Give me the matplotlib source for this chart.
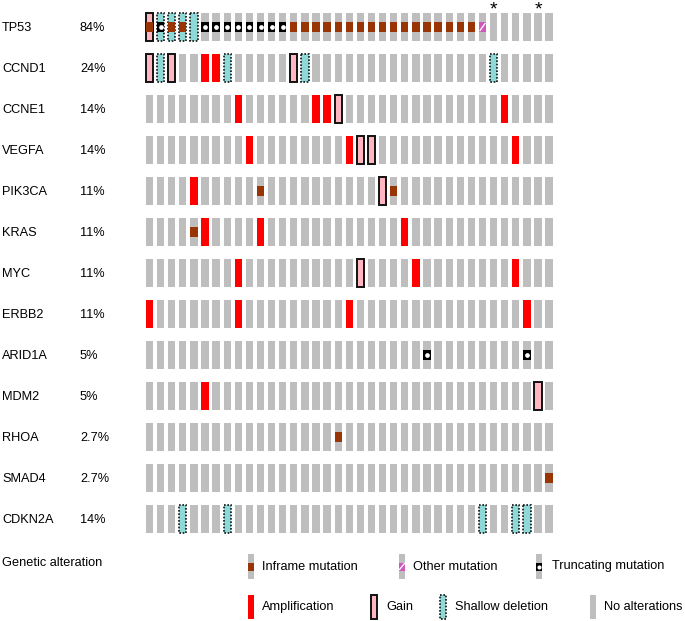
import matplotlib
matplotlib.use("Agg")
import matplotlib.pyplot as plt
from matplotlib.patches import Rectangle

plt.rcParams['font.family'] = ['Liberation Sans', 'DejaVu Sans']

genes = ["TP53", "CCND1", "CCNE1", "VEGFA", "PIK3CA", "KRAS", "MYC",
         "ERBB2", "ARID1A", "MDM2", "RHOA", "SMAD4", "CDKN2A"]
percents = ["84%", "24%", "14%", "14%", "11%", "11%", "11%",
            "11%", "5%", "5%", "2.7%", "2.7%", "14%"]
n_samples = 37

amplification = {"CCND1": [5, 6], "CCNE1": [8, 15, 16, 32], "VEGFA": [9, 18, 33],
                 "PIK3CA": [4], "KRAS": [5, 10, 23], "MYC": [8, 24, 33],
                 "ERBB2": [0, 8, 18, 34], "MDM2": [5]}
gain = {"TP53": [0], "CCND1": [0, 2, 13], "CCNE1": [17], "VEGFA": [19, 20],
        "PIK3CA": [21], "MYC": [19], "MDM2": [35]}
shallow_deletion = {"TP53": [1, 2, 3, 4], "CCND1": [1, 7, 14, 31],
                    "CDKN2A": [3, 7, 30, 33, 34]}
inframe = {"TP53": [0, 2, 3] + list(range(13, 30)), "PIK3CA": [10, 22],
           "KRAS": [4], "RHOA": [17], "SMAD4": [36]}
truncating = {"TP53": [1, 5, 6, 7, 8, 9, 10, 11, 12], "ARID1A": [25, 34]}
other_mutation = {"TP53": [30]}
asterisk_cols = [31, 35]

C_GRAY = "#bebebe"
C_AMP = "#ff0000"
C_GAIN = "#ffb6c1"
C_SHAL = "#8fd8d8"
C_INF = "#993404"
C_TRUNC = "#000000"
C_OTHER = "#cf58bc"

W, H = 685, 621
fig = plt.figure(figsize=(W / 100, H / 100), dpi=100)

pitch_x, x0 = 11.1, 149.5
pitch_y, y0 = 41.0, 27.0
left_px = x0 - pitch_x / 2
right_px = x0 + pitch_x * (n_samples - 0.5)
top_px = y0 - pitch_y / 2
bot_px = y0 + pitch_y * (len(genes) - 0.5)
ax = fig.add_axes([left_px / W, 1 - bot_px / H, (right_px - left_px) / W, (bot_px - top_px) / H])
ax.set_xlim(-0.5, n_samples - 0.5)
ax.set_ylim(len(genes) - 0.5, -0.5)
ax.axis("off")

bw = 0.66
bh = 0.683
mh = 0.22

for r, g in enumerate(genes):
    cols = list(range(n_samples))
    ax.bar(cols, bh, bottom=r - bh / 2, width=bw, color=C_GRAY, linewidth=0, zorder=1)
    if g in amplification:
        ax.bar(amplification[g], bh, bottom=r - bh / 2, width=bw, color=C_AMP, linewidth=0, zorder=2)
    if g in gain:
        ax.bar(gain[g], bh, bottom=r - bh / 2, width=bw, color=C_GAIN,
               edgecolor="#111111", linewidth=1.4, zorder=2)
    if g in shallow_deletion:
        ax.bar(shallow_deletion[g], bh, bottom=r - bh / 2, width=bw, color=C_SHAL,
               edgecolor="#111111", linewidth=1.2, linestyle=(0, (1, 1)), zorder=2)
    if g in inframe:
        ax.bar(inframe[g], mh, bottom=r - mh / 2, width=bw, color=C_INF, linewidth=0, zorder=3)
    if g in truncating:
        ax.bar(truncating[g], mh, bottom=r - mh / 2, width=bw, color=C_TRUNC, linewidth=0, zorder=3)
        ax.plot(truncating[g], [r] * len(truncating[g]), "o", color="white",
                markersize=3.4, markeredgewidth=0, zorder=4)
    if g in other_mutation:
        ax.bar(other_mutation[g], mh, bottom=r - mh / 2, width=bw, color=C_OTHER, linewidth=0, zorder=3)
        for c in other_mutation[g]:
            ax.plot([c - bw / 2 * 0.7, c + bw / 2 * 0.7], [r + mh / 2 * 0.8, r - mh / 2 * 0.8],
                    color="white", lw=0.9, zorder=4)

for c in asterisk_cols:
    ax.text(c, -0.42, "*", ha="center", va="center", fontsize=14, clip_on=False)

ytr = ax.get_yaxis_transform()
def ax_x(px):
    return (px - left_px) / (right_px - left_px)

fs = 9.2
for r, (g, p) in enumerate(zip(genes, percents)):
    ax.text(ax_x(2), r + 0.02, g, transform=ytr, ha="left", va="center", fontsize=fs)
    ax.text(ax_x(80), r + 0.02, p, transform=ytr, ha="left", va="center", fontsize=fs)

# legend in pixel coordinates
lg = fig.add_axes([0, 0, 1, 1], facecolor="none")
lg.set_xlim(0, W)
lg.set_ylim(H, 0)
lg.axis("off")

lg.text(2, 563, "Genetic alteration", ha="left", va="center", fontsize=fs)

gw = 6.5
def glyph_bg(cx, yt, yb, color=C_GRAY, **kw):
    lg.add_patch(Rectangle((cx - gw / 2, yt), gw, yb - yt, facecolor=color, linewidth=0, **kw))

# row 1: mutations
row1_t, row1_b = 554, 579
mid1 = (row1_t + row1_b) / 2
mhp = 8
glyph_bg(251, row1_t, row1_b)
lg.add_patch(Rectangle((251 - gw / 2, mid1 - mhp / 2), gw, mhp, facecolor=C_INF, linewidth=0))
lg.text(262, mid1, "Inframe mutation", va="center", fontsize=fs)

glyph_bg(402, row1_t, row1_b)
lg.add_patch(Rectangle((402 - gw / 2, mid1 - mhp / 2), gw, mhp, facecolor=C_OTHER, linewidth=0))
lg.plot([402 - 2.5, 402 + 2.5], [mid1 + 3, mid1 - 3], color="white", lw=0.9)
lg.text(413, mid1, "Other mutation", va="center", fontsize=fs)

glyph_bg(539, row1_t, row1_b)
lg.add_patch(Rectangle((539 - gw / 2, mid1 - mhp / 2), gw, mhp, facecolor=C_TRUNC, linewidth=0))
lg.plot([539], [mid1], "o", color="white", markersize=3.0, markeredgewidth=0)
lg.text(552, mid1, "Truncating mutation", va="center", fontsize=fs)

# row 2: CNAs
row2_t, row2_b = 595, 619
mid2 = (row2_t + row2_b) / 2
glyph_bg(251, row2_t, row2_b, color=C_AMP)
lg.text(262, mid2, "Amplification", va="center", fontsize=fs)

lg.add_patch(Rectangle((374 - gw / 2, row2_t), gw, row2_b - row2_t, facecolor=C_GAIN,
                       edgecolor="#111111", linewidth=1.4))
lg.text(386, mid2, "Gain", va="center", fontsize=fs)

lg.add_patch(Rectangle((443 - gw / 2, row2_t), gw, row2_b - row2_t, facecolor=C_SHAL,
                       edgecolor="#111111", linewidth=1.2, linestyle=(0, (1, 1))))
lg.text(455, mid2, "Shallow deletion", va="center", fontsize=fs)

glyph_bg(593, row2_t, row2_b)
lg.text(604, mid2, "No alterations", va="center", fontsize=fs)

fig.savefig("out.png", dpi=100)
